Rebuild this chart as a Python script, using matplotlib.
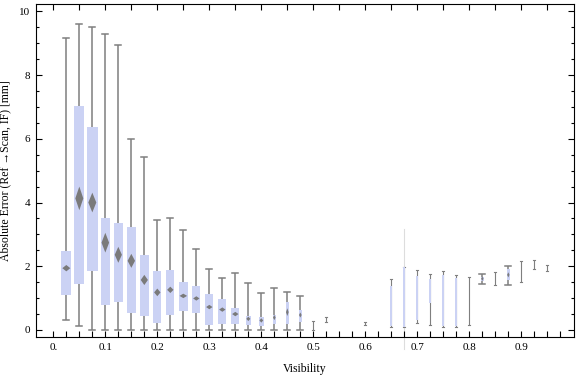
import matplotlib
matplotlib.use("Agg")
import matplotlib.pyplot as plt
from matplotlib.patches import Rectangle, Polygon
import numpy as np

# ---- data ----
visibility = [0.025, 0.05, 0.075, 0.1, 0.125, 0.15, 0.175, 0.2, 0.225, 0.25,
              0.275, 0.3, 0.325, 0.35, 0.375, 0.4, 0.425, 0.45, 0.475, 0.5,
              0.525, 0.6, 0.65, 0.675, 0.7, 0.725, 0.75, 0.775, 0.8, 0.825,
              0.85, 0.875, 0.9, 0.925, 0.95]
whisker_low = [0.30, 0.13, 0.0, 0.0, 0.0, 0.0, 0.0, 0.0, 0.0, 0.0,
               0.0, 0.0, 0.0, 0.0, 0.0, 0.0, 0.0, 0.0, 0.0, 0.0,
               0.25, 0.15, 0.10, 0.08, 0.21, 0.15, 0.10, 0.10, 0.15, 1.45,
               1.42, 1.42, 1.51, 1.90, 1.86]
quartile_1 = [1.10, 1.45, 1.86, 0.79, 0.89, 0.54, 0.45, 0.23, 0.48, 0.61,
              0.54, 0.17, 0.20, 0.20, 0.17, 0.14, 0.20, 0.18, 0.24, 0.05,
              0.30, 0.18, 0.13, 0.10, 0.31, 0.84, 0.13, 0.13, 0.20, 1.55,
              1.55, 1.57, 1.70, 1.95, 1.90]
median = [1.94, 4.13, 4.00, 2.74, 2.36, 2.17, 1.57, 1.18, 1.26, 1.07,
          0.99, 0.72, 0.64, 0.50, 0.35, 0.30, 0.39, 0.56, 0.47, 0.14,
          0.33, 0.20, 0.80, 1.00, 1.00, 1.20, 0.90, 0.90, 0.90, 1.61,
          1.62, 1.73, 1.85, 2.05, 1.95]
quartile_3 = [2.48, 7.03, 6.37, 3.51, 3.36, 3.23, 2.35, 1.85, 1.88, 1.51,
              1.38, 1.13, 0.98, 0.69, 0.44, 0.41, 0.48, 0.88, 0.63, 0.20,
              0.37, 0.22, 1.38, 1.97, 1.69, 1.61, 1.73, 1.62, 1.60, 1.67,
              1.70, 1.90, 2.00, 2.15, 2.00]
whisker_high = [9.15, 9.59, 9.50, 9.28, 8.94, 5.98, 5.42, 3.44, 3.50, 3.13,
                2.53, 1.90, 1.62, 1.78, 1.47, 1.15, 1.31, 1.18, 1.07, 0.28,
                0.40, 0.24, 1.59, 1.97, 1.88, 1.76, 1.84, 1.73, 1.65, 1.76,
                1.82, 2.01, 2.17, 2.20, 2.04]
median_spread = [0.10, 0.37, 0.31, 0.31, 0.25, 0.22, 0.16, 0.12, 0.10, 0.07,
                 0.06, 0.06, 0.06, 0.05, 0.05, 0.06, 0.08, 0.12, 0.08, 0.0,
                 0.0, 0.0, 0.0, 0.0, 0.0, 0.0, 0.0, 0.0, 0.0, 0.03,
                 0.0, 0.08, 0.0, 0.0, 0.0]

# ---- styles (box widths in pixels) ----
box_px = [10, 10, 10.5, 9.5, 9, 9.3, 9, 8, 8, 9.5,
          8, 8, 8, 8, 5, 4.7, 3.3, 3.3, 3.3, 0,
          0, 0, 2, 2, 2, 2, 2, 2, 0, 3,
          0, 3, 0, 0, 0]

BOX_COLOR = "#cbd2f4"
WHISK_COLOR = "#7f7f7f"
MED_COLOR = "#7a7a7a"

W, H = 576, 377
fig = plt.figure(figsize=(W / 100, H / 100), dpi=100)
L, R, B, T = 36, 574, 337, 4
ax = fig.add_axes([L / W, 1 - B / H, (R - L) / W, (B - T) / H])
xlim = (-0.0333, 1.0013)
ylim = (-0.22, 10.23)
ax.set_xlim(*xlim)
ax.set_ylim(*ylim)

px_x = (xlim[1] - xlim[0]) / (R - L)   # data units per pixel in x
px_y = (ylim[1] - ylim[0]) / (B - T)

for i, x in enumerate(visibility):
    lo, q1, md, q3, hi = whisker_low[i], quartile_1[i], median[i], quartile_3[i], whisker_high[i]
    bw = box_px[i] * px_x
    wide = box_px[i] >= 3
    cap = (6 if wide else 2) * px_x
    lw = 1.1 if wide else 0.8
    # whisker
    ax.plot([x, x], [lo, hi], color=WHISK_COLOR, lw=lw, zorder=2, solid_capstyle="butt")
    ax.plot([x - cap / 2, x + cap / 2], [lo, lo], color=WHISK_COLOR, lw=lw, zorder=2)
    ax.plot([x - cap / 2, x + cap / 2], [hi, hi], color=WHISK_COLOR, lw=lw, zorder=2)
    # box
    if bw > 0:
        ax.add_patch(Rectangle((x - bw / 2, q1), bw, q3 - q1, facecolor=BOX_COLOR,
                               edgecolor="none", zorder=3))
    # median diamond
    if box_px[i] >= 3:
        hw = min(4.0, box_px[i] * 0.4) * px_x
        hh = max(median_spread[i], 2.2 * px_y)
        ax.add_patch(Polygon([[x - hw, md], [x, md + hh], [x + hw, md], [x, md - hh]],
                             closed=True, facecolor=MED_COLOR, edgecolor="none", zorder=4))

# faint artefact line at 0.675
ax.plot([0.675, 0.675], [-0.6, 3.17], color="#dddddd", lw=0.8, zorder=1, clip_on=False)

font = "Liberation Serif"
ax.set_xticks(np.arange(0, 0.95, 0.1))
ax.set_xticklabels(["0."] + [f"{v:.1f}" for v in np.arange(0.1, 0.95, 0.1)])
ax.set_xticks(np.arange(0, 1.0, 0.025), minor=True)
ax.set_yticks([0, 2, 4, 6, 8, 10])
ax.set_yticks(np.arange(0, 10.01, 0.5), minor=True)
ax.tick_params(axis="both", which="both", direction="in", top=False, right=True,
               labelsize=8, width=0.8, color="black", pad=4)
ax.tick_params(axis="x", which="major", length=4)
ax.tick_params(axis="x", which="minor", length=4)
ax.tick_params(axis="y", which="major", length=4.5)
ax.tick_params(axis="y", which="minor", length=2.5)

# top ticks at 0.05 spacing
sec = ax.secondary_xaxis("top")
sec.set_xticks(np.arange(0, 1.0, 0.05))
sec.set_xticklabels([])
sec.tick_params(direction="in", length=4, width=0.8)
sec.spines["top"].set_visible(False)

for lab in ax.get_xticklabels() + ax.get_yticklabels():
    lab.set_fontfamily(font)

for s in ax.spines.values():
    s.set_linewidth(0.8)

ax.set_xlabel("Visibility", fontfamily=font, fontsize=8.5, labelpad=8)
ax.set_ylabel("Absolute Error (Ref \u2192Scan, IF) [mm]", fontfamily=[font, "DejaVu Sans"],
              fontsize=8.5, labelpad=6)

fig.savefig("out.png", dpi=100)
